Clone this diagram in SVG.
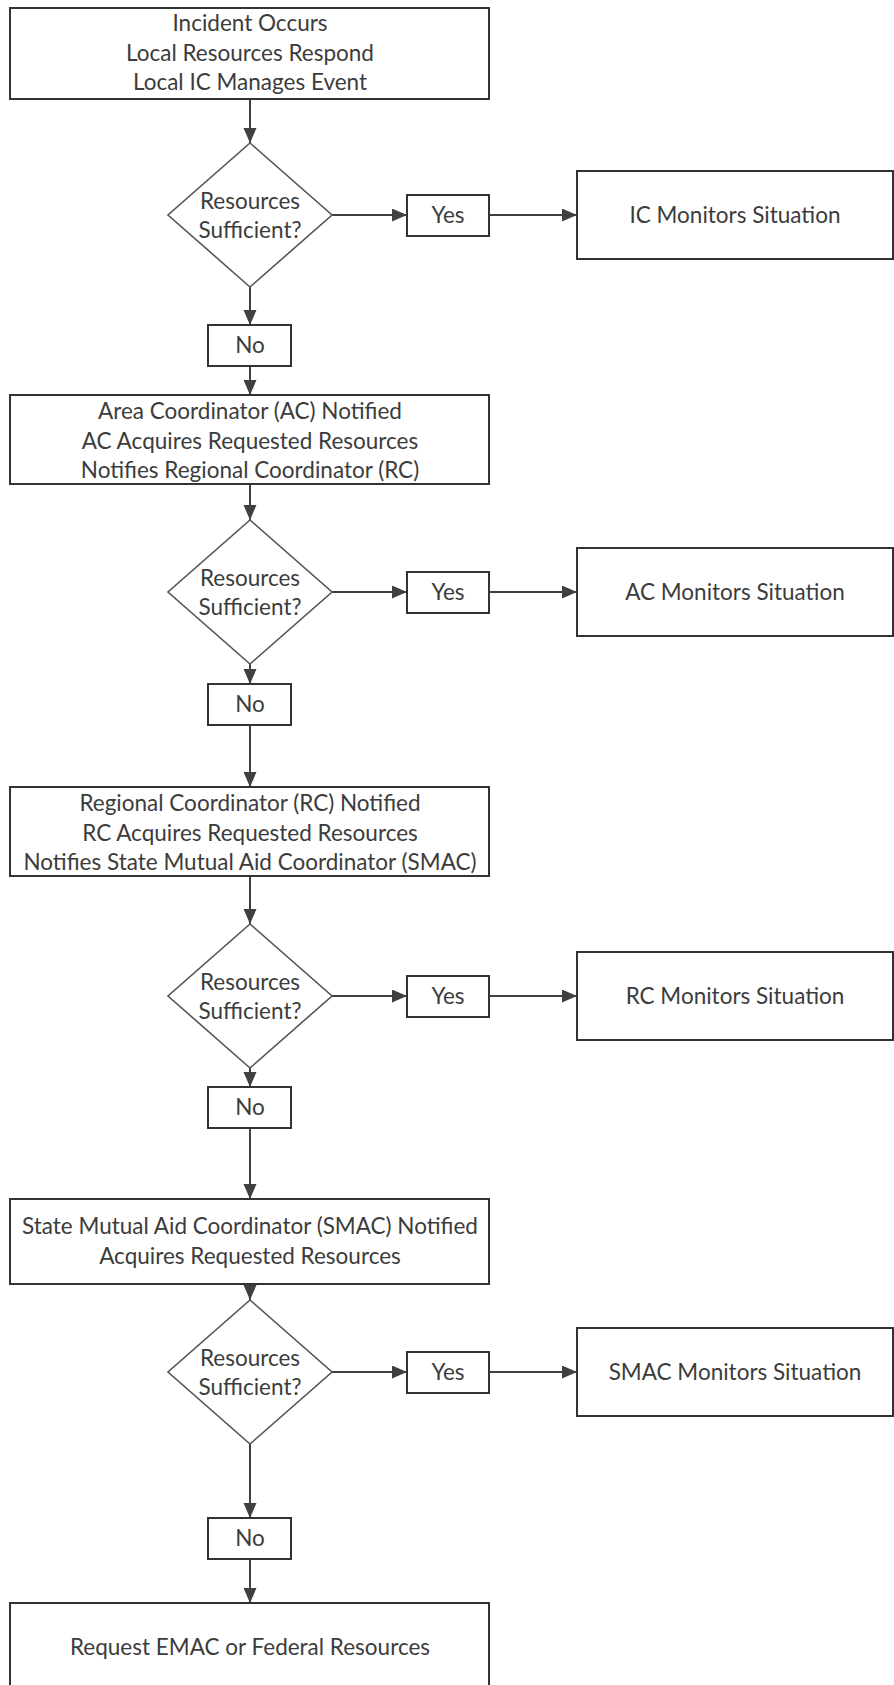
<svg xmlns="http://www.w3.org/2000/svg" width="894" height="1685" viewBox="0 0 894 1685">
<style>
.box{fill:#fff;stroke:#333;stroke-width:2}
.dia{fill:#fff;stroke:#555;stroke-width:1.6}
.t{font-family:Lato,"Liberation Sans",sans-serif;font-size:22.5px;fill:#3c3c3c;text-anchor:middle}
.c{stroke:#404040;stroke-width:2;fill:none;marker-end:url(#ah)}
</style>
<defs>
<marker id="ah" markerUnits="userSpaceOnUse" markerWidth="16" markerHeight="14" refX="15" refY="6.5" orient="auto">
<path d="M0,0 L15,6.5 L0,13 z" fill="#404040"/>
</marker>
</defs>
<rect width="894" height="1685" fill="#fff"/>
<g id="connectors">
<line class="c" x1="250" y1="99" x2="250" y2="143"/>
<line class="c" x1="332" y1="215" x2="407" y2="215"/>
<line class="c" x1="489" y1="215" x2="577" y2="215"/>
<line class="c" x1="250" y1="287" x2="250" y2="325"/>
<line class="c" x1="250" y1="366" x2="250" y2="395"/>
<line class="c" x1="250" y1="484" x2="250" y2="520"/>
<line class="c" x1="332" y1="592" x2="407" y2="592"/>
<line class="c" x1="489" y1="592" x2="577" y2="592"/>
<line class="c" x1="250" y1="664" x2="250" y2="684"/>
<line class="c" x1="250" y1="725" x2="250" y2="787"/>
<line class="c" x1="250" y1="876" x2="250" y2="924"/>
<line class="c" x1="332" y1="996" x2="407" y2="996"/>
<line class="c" x1="489" y1="996" x2="577" y2="996"/>
<line class="c" x1="250" y1="1068" x2="250" y2="1087"/>
<line class="c" x1="250" y1="1128" x2="250" y2="1199"/>
<line class="c" x1="250" y1="1284" x2="250" y2="1300"/>
<line class="c" x1="332" y1="1372" x2="407" y2="1372"/>
<line class="c" x1="489" y1="1372" x2="577" y2="1372"/>
<line class="c" x1="250" y1="1444" x2="250" y2="1518"/>
<line class="c" x1="250" y1="1559" x2="250" y2="1603"/>
</g>
<g id="start">
<rect class="box" x="10" y="8" width="479" height="91"/>
<text class="t" x="250" y="31">Incident Occurs</text>
<text class="t" x="250" y="61">Local Resources Respond</text>
<text class="t" x="250" y="90">Local IC Manages Event</text>
</g>
<g id="d1">
<polygon class="dia" points="250,143 332,215 250,287 168,215"/>
<text class="t" x="250" y="209">Resources</text>
<text class="t" x="250" y="238">Sufficient?</text>
</g>
<g id="yes1"><rect class="box" x="407" y="195" width="82" height="41"/><text class="t" x="448" y="223">Yes</text></g>
<g id="mon1"><rect class="box" x="577" y="171" width="316" height="88"/><text class="t" x="735" y="223">IC Monitors Situation</text></g>
<g id="no1"><rect class="box" x="208" y="325" width="83" height="41"/><text class="t" x="250" y="353">No</text></g>
<g id="ac">
<rect class="box" x="10" y="395" width="479" height="89"/>
<text class="t" x="250" y="419">Area Coordinator (AC) Notified</text>
<text class="t" x="250" y="449">AC Acquires Requested Resources</text>
<text class="t" x="250" y="478">Notifies Regional Coordinator (RC)</text>
</g>
<g id="d2">
<polygon class="dia" points="250,520 332,592 250,664 168,592"/>
<text class="t" x="250" y="586">Resources</text>
<text class="t" x="250" y="615">Sufficient?</text>
</g>
<g id="yes2"><rect class="box" x="407" y="572" width="82" height="41"/><text class="t" x="448" y="600">Yes</text></g>
<g id="mon2"><rect class="box" x="577" y="548" width="316" height="88"/><text class="t" x="735" y="600">AC Monitors Situation</text></g>
<g id="no2"><rect class="box" x="208" y="684" width="83" height="41"/><text class="t" x="250" y="712">No</text></g>
<g id="rc">
<rect class="box" x="10" y="787" width="479" height="89"/>
<text class="t" x="250" y="811">Regional Coordinator (RC) Notified</text>
<text class="t" x="250" y="841">RC Acquires Requested Resources</text>
<text class="t" x="250" y="870">Notifies State Mutual Aid Coordinator (SMAC)</text>
</g>
<g id="d3">
<polygon class="dia" points="250,924 332,996 250,1068 168,996"/>
<text class="t" x="250" y="990">Resources</text>
<text class="t" x="250" y="1019">Sufficient?</text>
</g>
<g id="yes3"><rect class="box" x="407" y="976" width="82" height="41"/><text class="t" x="448" y="1004">Yes</text></g>
<g id="mon3"><rect class="box" x="577" y="952" width="316" height="88"/><text class="t" x="735" y="1004">RC Monitors Situation</text></g>
<g id="no3"><rect class="box" x="208" y="1087" width="83" height="41"/><text class="t" x="250" y="1115">No</text></g>
<g id="smac">
<rect class="box" x="10" y="1199" width="479" height="85"/>
<text class="t" x="250" y="1234">State Mutual Aid Coordinator (SMAC) Notified</text>
<text class="t" x="250" y="1264">Acquires Requested Resources</text>
</g>
<g id="d4">
<polygon class="dia" points="250,1300 332,1372 250,1444 168,1372"/>
<text class="t" x="250" y="1366">Resources</text>
<text class="t" x="250" y="1395">Sufficient?</text>
</g>
<g id="yes4"><rect class="box" x="407" y="1352" width="82" height="41"/><text class="t" x="448" y="1380">Yes</text></g>
<g id="mon4"><rect class="box" x="577" y="1328" width="316" height="88"/><text class="t" x="735" y="1380">SMAC Monitors Situation</text></g>
<g id="no4"><rect class="box" x="208" y="1518" width="83" height="41"/><text class="t" x="250" y="1546">No</text></g>
<g id="end">
<rect class="box" x="10" y="1603" width="479" height="100"/>
<text class="t" x="250" y="1655">Request EMAC or Federal Resources</text>
</g>
</svg>
